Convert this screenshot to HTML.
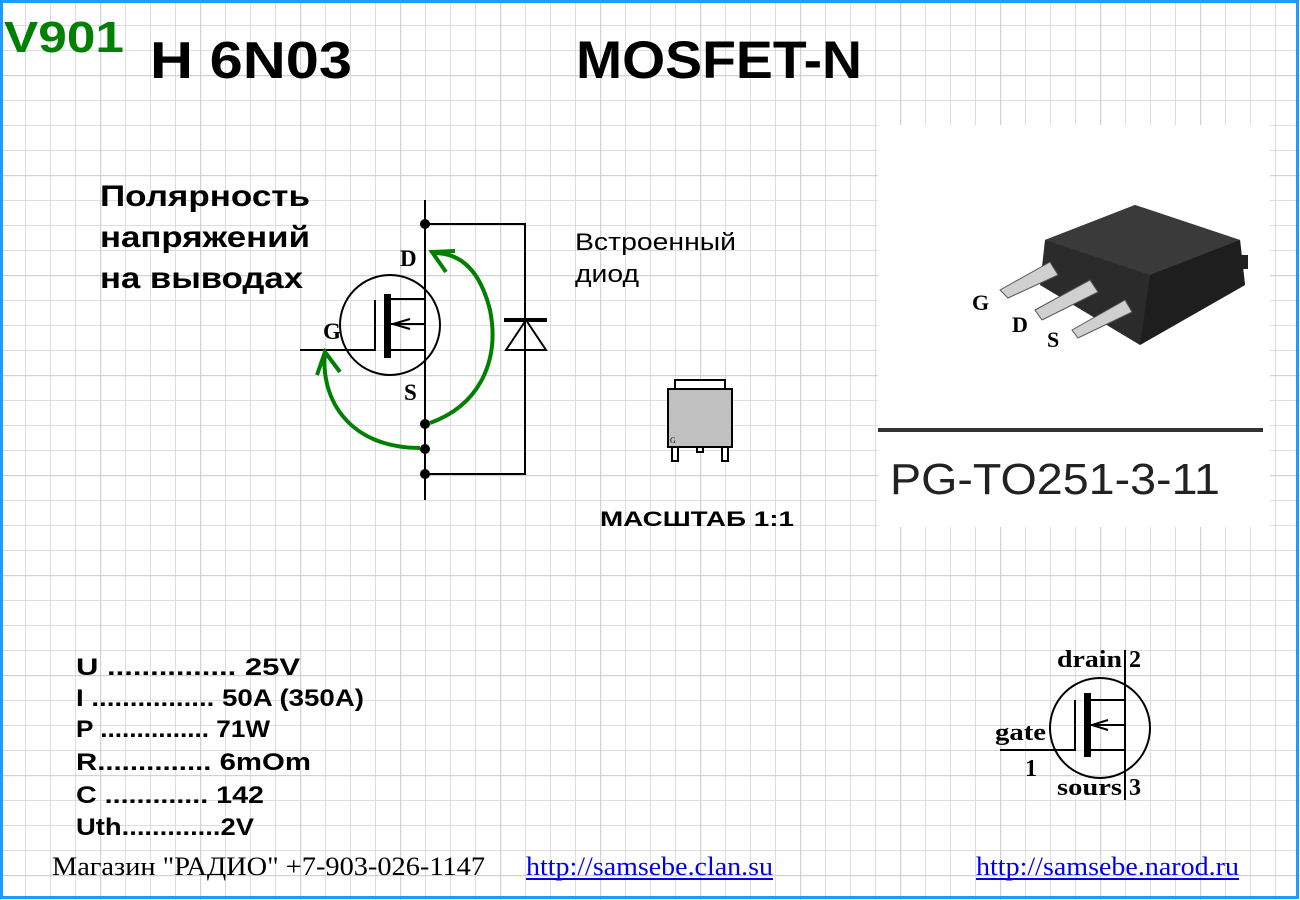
<!DOCTYPE html>
<html><head><meta charset="utf-8"><style>
body{margin:0;width:1300px;height:900px;overflow:hidden;background:#fff;font-family:"Liberation Sans",sans-serif}
svg{position:absolute;left:0;top:0}
</style></head><body>
<svg width="1300" height="900" viewBox="0 0 1300 900" xmlns="http://www.w3.org/2000/svg" xml:space="preserve">
<defs>
<pattern id="g" width="25" height="25" patternUnits="userSpaceOnUse"><path d="M0 0H25M0 0V25" stroke="#dadada" stroke-width="1.8" fill="none"/></pattern>
<pattern id="G" x="0" y="75" width="100" height="100" patternUnits="userSpaceOnUse"><path d="M0 0H100M0 0V100" stroke="#d2d2d2" stroke-width="2.5" fill="none"/></pattern>
</defs>
<rect width="1300" height="900" fill="url(#g)"/>
<rect width="1300" height="900" fill="url(#G)"/>
<rect x="1.5" y="1.5" width="1296" height="896" fill="none" stroke="#1e9bff" stroke-width="3"/>

<text x="4" y="52" font-size="44" font-weight="bold" fill="#008000" textLength="120" lengthAdjust="spacingAndGlyphs">V901</text>
<text x="150" y="78" font-size="52" font-weight="bold" textLength="202" lengthAdjust="spacingAndGlyphs">H  6N03</text>
<text x="576" y="78" font-size="53" font-weight="bold" textLength="286" lengthAdjust="spacingAndGlyphs">MOSFET-N</text>

<g font-size="30" font-weight="bold">
<text x="100" y="206" textLength="210" lengthAdjust="spacingAndGlyphs">Полярность</text>
<text x="100" y="247" textLength="210" lengthAdjust="spacingAndGlyphs">напряжений</text>
<text x="100" y="288" textLength="203" lengthAdjust="spacingAndGlyphs">на выводах</text>
</g>
<g font-size="24">
<text x="575" y="250" textLength="161" lengthAdjust="spacingAndGlyphs">Встроенный</text>
<text x="575" y="282" textLength="64" lengthAdjust="spacingAndGlyphs">диод</text>
</g>

<!-- schematic -->
<g stroke="#000" stroke-width="2" fill="none">
<line x1="425" y1="200" x2="425" y2="500"/>
<polyline points="425,224 525,224 525,474 425,474"/>
<circle cx="390" cy="325" r="50"/>
<polyline points="300,350 375,350 375,300"/>
<polyline points="391,299 425,299"/>
<line x1="391" y1="324" x2="425" y2="324"/>
<line x1="391" y1="350" x2="425" y2="350"/>
<polyline points="410,319 393,324 410,329"/>
<polygon points="506,350 546,350 526,320"/>
</g>
<line x1="504" y1="320" x2="547" y2="320" stroke="#000" stroke-width="4"/>
<rect x="384" y="294" width="7" height="64" fill="#000"/>
<g fill="#000"><circle cx="425" cy="224" r="5"/><circle cx="425" cy="424" r="5"/><circle cx="425" cy="449" r="5"/><circle cx="425" cy="474" r="5"/></g>
<g stroke="#008000" stroke-width="4" fill="none">
<path d="M430,423 C480,405 500,360 490,310 C480,270 460,252 432,253"/>
<polyline points="455,251 432,252 446,272"/>
<path d="M420,448 C350,448 320,400 325,352"/>
<polyline points="317,375 325,352 340,372"/>
</g>
<g font-family="Liberation Serif" font-weight="bold" font-size="23">
<text x="400" y="266">D</text><text x="323" y="339">G</text><text x="404" y="400">S</text>
</g>

<!-- small package -->
<rect x="675" y="380" width="50" height="10" fill="#fff" stroke="#000" stroke-width="2"/>
<rect x="668" y="389" width="64" height="58" fill="#c0c0c0" stroke="#000" stroke-width="2"/>
<rect x="672" y="447" width="6" height="14" fill="#fff" stroke="#000" stroke-width="2"/>
<rect x="722" y="447" width="6" height="14" fill="#fff" stroke="#000" stroke-width="2"/>
<rect x="697" y="447" width="6" height="5" fill="#fff" stroke="#000" stroke-width="2"/>
<text x="670" y="443" font-size="8" font-family="Liberation Serif">G</text>
<text x="600" y="526" font-size="21" font-weight="bold" textLength="194" lengthAdjust="spacingAndGlyphs">МАСШТАБ 1:1</text>

<!-- photo area -->
<rect x="878" y="125" width="392" height="402" fill="#fff"/>
<polygon points="1045,240 1135,205 1240,240 1245,285 1140,345 1040,285" fill="#2b2b2b"/>
<polygon points="1045,240 1135,205 1240,240 1150,275" fill="#3a3a3a"/>
<polygon points="1150,275 1240,240 1245,285 1140,345" fill="#1e1e1e"/>
<rect x="1240" y="255" width="8" height="14" fill="#222"/>
<polygon points="1000,290 1050,262 1058,275 1008,298" fill="#d0d0d0" stroke="#555"/>
<polygon points="1035,310 1090,280 1098,292 1042,320" fill="#d0d0d0" stroke="#555"/>
<polygon points="1072,330 1125,300 1132,312 1078,338" fill="#d0d0d0" stroke="#555"/>
<g font-family="Liberation Serif" font-weight="bold" font-size="22">
<text x="972" y="310">G</text><text x="1012" y="332">D</text><text x="1047" y="347">S</text>
</g>
<rect x="878" y="428" width="385" height="4" fill="#333"/>
<text x="890" y="494" font-size="44" fill="#222" textLength="330" lengthAdjust="spacingAndGlyphs">PG-TO251-3-11</text>

<!-- specs -->
<g font-size="24" font-weight="bold">
<text x="76" y="675" textLength="224" lengthAdjust="spacingAndGlyphs">U ............... 25V</text>
<text x="76" y="706" textLength="288" lengthAdjust="spacingAndGlyphs">I ................ 50A (350A)</text>
<text x="76" y="737" textLength="194" lengthAdjust="spacingAndGlyphs">P ............... 71W</text>
<text x="76" y="770" textLength="235" lengthAdjust="spacingAndGlyphs">R..............  6mOm</text>
<text x="76" y="803" textLength="188" lengthAdjust="spacingAndGlyphs">C ............. 142</text>
<text x="76" y="835" textLength="178" lengthAdjust="spacingAndGlyphs">Uth.............2V</text>
</g>
<g font-size="26" font-family="Liberation Serif">
<text x="52" y="875" textLength="433" lengthAdjust="spacingAndGlyphs">Магазин "РАДИО" +7-903-026-1147</text>
<text x="526" y="875" fill="#0000ee" textLength="247" lengthAdjust="spacingAndGlyphs">http://samsebe.clan.su</text>
<text x="976" y="875" fill="#0000ee" textLength="263" lengthAdjust="spacingAndGlyphs">http://samsebe.narod.ru</text>
</g>
<rect x="526" y="878" width="247" height="2" fill="#0000ee"/>
<rect x="976" y="878" width="263" height="2" fill="#0000ee"/>

<!-- bottom-right symbol -->
<g stroke="#000" stroke-width="2" fill="none">
<line x1="1125" y1="650" x2="1125" y2="800"/>
<circle cx="1100" cy="728" r="50"/>
<polyline points="1000,750 1075,750 1075,700"/>
<line x1="1090" y1="700" x2="1125" y2="700"/>
<line x1="1090" y1="725" x2="1125" y2="725"/>
<line x1="1090" y1="750" x2="1125" y2="750"/>
<polyline points="1108,720 1092,725 1108,730"/>
</g>
<rect x="1084" y="693" width="7" height="64" fill="#000"/>
<g font-family="Liberation Serif" font-weight="bold" font-size="24">
<text x="1057" y="667" textLength="65" lengthAdjust="spacingAndGlyphs">drain</text><text x="1129" y="667">2</text>
<text x="995" y="740" textLength="51" lengthAdjust="spacingAndGlyphs">gate</text><text x="1025" y="776">1</text>
<text x="1057" y="795" textLength="65" lengthAdjust="spacingAndGlyphs">sours</text><text x="1129" y="795">3</text>
</g>
</svg>
</body></html>
